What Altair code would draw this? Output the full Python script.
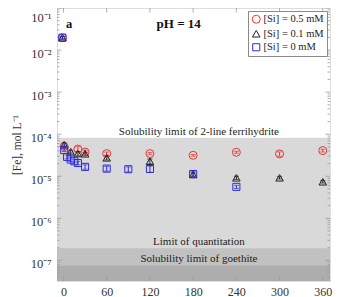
import altair as alt
import pandas as pd
import numpy as np

# ---------------- data ----------------
series_labels = ["[Si] = 0.5 mM", "[Si] = 0.1 mM", "[Si] = 0 mM"]

t_05 = [-1.5, 1, 20, 30, 60, 120, 180, 240, 300, 360]
fe_05 = [1.97e-2, 5.07e-5, 4.43e-5, 3.76e-5, 3.46e-5, 3.46e-5, 3.15e-5, 3.72e-5, 3.40e-5, 4.07e-5]
err_05 = [1.5e-3, 4e-6, 6e-6, 4e-6, 3e-6, 2e-6, 1.5e-6, 2e-6, 4e-6, 3e-6]

t_01 = [-1.5, 1, 10, 20, 30, 60, 120, 180, 240, 300, 360]
fe_01 = [1.97e-2, 5.66e-5, 3.86e-5, 3.46e-5, 3.42e-5, 2.74e-5, 2.27e-5, 1.10e-5, 9.2e-6, 9.2e-6, 7.4e-6]
err_01 = [1.5e-3, 6e-6, 3e-6, 4e-6, 3e-6, 3e-6, 3e-6, 1e-6, 8e-7, 6e-7, 5e-7]

t_0 = [-1.5, 1, 5, 10, 15, 20, 30, 60, 90, 120, 180, 240]
fe_0 = [1.97e-2, 4.19e-5, 2.89e-5, 2.49e-5, 2.27e-5, 2.06e-5, 1.67e-5, 1.52e-5, 1.47e-5, 1.49e-5, 1.13e-5, 5.6e-6]
err_0 = [1.5e-3, 3e-6, 3e-6, 2.5e-6, 2e-6, 2e-6, 2e-6, 2e-6, 2e-6, 2.5e-6, 1.5e-6, 5e-7]

band_labels = ["Solubility limit of 2-line ferrihydrite", "Limit of quantitation", "Solubility limit of goethite"]
band_tops = [8.2e-5, 1.95e-7, 7.6e-8]
band_label_t = [188, 188, 188]

x_ticks = [0, 60, 120, 180, 240, 300, 360]
y_decades = [1e-7, 1e-6, 1e-5, 1e-4, 1e-3, 1e-2, 1e-1]

# ---------------- styling ----------------
W, H = 273, 273
X_DOM = [-9, 370]
Y_DOM = [10 ** -7.49, 0.1]
FONT = "Liberation Serif"
colors = ["#ee3333", "#222222", "#2b2bdd"]
shapes = ["circle", "triangle-up", "square"]
sizes = [64, 50, 76]
band_colors = ["#d9d9d9", "#c1c1c1", "#adadad"]
TICK = "#9a9a9a"

rows = []
for lab, ts, fs, es in zip(series_labels, [t_05, t_01, t_0], [fe_05, fe_01, fe_0], [err_05, err_01, err_0]):
    for t, f, e in zip(ts, fs, es):
        rows.append({"series": lab, "t": t, "fe": f, "lo": f - e, "hi": f + e})
df = pd.DataFrame(rows)

bands = pd.DataFrame({"label": band_labels, "top": band_tops, "t": band_label_t})

x_scale = alt.Scale(domain=X_DOM, nice=False, zero=False)
y_scale = alt.Scale(type="log", domain=Y_DOM, nice=False)

color_scale = alt.Scale(domain=series_labels, range=colors)
shape_scale = alt.Scale(domain=series_labels, range=shapes)
size_scale = alt.Scale(domain=series_labels, range=sizes)

x_axis = alt.Axis(values=x_ticks, title=None, tickSize=0, domain=False, grid=False,
                  labelFont=FONT, labelFontSize=12, labelColor="#333", labelPadding=5)
label_expr = ("'10' + ['⁰','⁻¹','⁻²','⁻³','⁻⁴','⁻⁵','⁻⁶','⁻⁷','⁻⁸']"
              "[-round(log(datum.value)/LN10)]")
y_axis = alt.Axis(values=y_decades, title="[Fe], mol L⁻¹", tickSize=0, domain=False, grid=False,
                  labelExpr=label_expr, labelFont=FONT, labelFontSize=12.5, labelColor="#333",
                  labelPadding=6, labelFlush=True, labelOffset=3,
                  titleFont=FONT, titleFontSize=11.5, titleFontWeight="normal",
                  titleColor="#333", titlePadding=8)

legend = alt.Legend(title=None, orient="top-right", offset=3,
                    fillColor="white", strokeColor="#8a8a8a",
                    padding=3, labelFont=FONT, labelFontSize=10.5,
                    labelColor="#222", symbolSize=40, rowPadding=1.5,
                    symbolStrokeWidth=1, labelOffset=2)


def X(field):
    return alt.X(field, scale=x_scale, axis=x_axis)


def Y(field):
    return alt.Y(field, scale=y_scale, axis=y_axis)


# background bands
band_layers = []
for i, c in enumerate(band_colors):
    layer = alt.Chart(bands.iloc[[i]]).mark_rect(color=c).encode(
        x=alt.value(0), x2=alt.value(W),
        y=Y("top:Q"),
        y2=alt.value(H),
    )
    band_layers.append(layer)

band_text = alt.Chart(bands).mark_text(font=FONT, fontSize=11, baseline="alphabetic",
                                       align="center", dy=-3, color="#222").encode(
    x=X("t:Q"),
    y=Y("top:Q"),
    text="label:N",
)

# inward frame ticks
minor_vals = []
for k in range(-8, -1):
    for m in range(2, 10):
        v = m * 10.0 ** k
        if Y_DOM[0] <= v <= Y_DOM[1]:
            minor_vals.append(v)
ymaj = pd.DataFrame({"v": y_decades})
ymin = pd.DataFrame({"v": minor_vals})
xmaj = pd.DataFrame({"v": x_ticks})


def yrule(d, x0, x1):
    return alt.Chart(d).mark_rule(color=TICK, strokeWidth=0.8).encode(
        y=Y("v:Q"), x=alt.value(x0), x2=alt.value(x1))


def xrule(d, y0, y1):
    return alt.Chart(d).mark_rule(color=TICK, strokeWidth=0.8).encode(
        x=X("v:Q"), y=alt.value(y0), y2=alt.value(y1))


ticks = [yrule(ymaj, 0, 4.5), yrule(ymin, 0, 2.5), yrule(ymaj, W - 4.5, W), yrule(ymin, W - 2.5, W),
         xrule(xmaj, H - 4.5, H), xrule(xmaj, 0, 4.5)]

# error bars: one layer set per series with a fixed colour (no colour scale, so the legend stays clean)
base = alt.Chart(df)
err_layers = []
for lab, c in zip(series_labels, colors):
    sub = base.transform_filter(alt.datum.series == lab)
    err_layers.append(sub.mark_rule(strokeWidth=1, color=c).encode(
        x=X("t:Q"), y=Y("lo:Q"), y2="hi:Q"))
    err_layers.append(sub.mark_tick(orient="horizontal", size=5, thickness=1, color=c).encode(
        x=X("t:Q"), y=Y("lo:Q")))
    err_layers.append(sub.mark_tick(orient="horizontal", size=5, thickness=1, color=c).encode(
        x=X("t:Q"), y=Y("hi:Q")))

points = base.mark_point(filled=False, strokeWidth=1, opacity=1).encode(
    x=X("t:Q"),
    y=Y("fe:Q"),
    color=alt.Color("series:N", scale=color_scale, legend=legend),
    shape=alt.Shape("series:N", scale=shape_scale, legend=legend),
    size=alt.Size("series:N", scale=size_scale, legend=None),
)

ann = pd.DataFrame({"txt": ["a", "pH = 14"], "t": [3.5, 160], "y": [0.0427, 0.0427]})
ann_a = alt.Chart(ann.iloc[[0]]).mark_text(font=FONT, fontSize=12.5, fontWeight="bold",
                                          align="left", baseline="middle", color="#111").encode(
    x=X("t:Q"), y=Y("y:Q"), text="txt:N")
ann_ph = alt.Chart(ann.iloc[[1]]).mark_text(font=FONT, fontSize=13, fontWeight="bold",
                                           align="center", baseline="middle", color="#111").encode(
    x=X("t:Q"), y=Y("y:Q"), text="txt:N")

chart = alt.layer(*band_layers, band_text, *ticks, *err_layers, points, ann_a, ann_ph).properties(
    width=W, height=H,
    autosize=alt.AutoSizeParams(type="none"),
    padding={"left": 49, "top": 0, "right": 17, "bottom": 17},
).configure_view(stroke="#7a7a7a", strokeWidth=1).configure(background="white")

chart.save("out.html", embed_options={"renderer": "svg", "actions": False})
